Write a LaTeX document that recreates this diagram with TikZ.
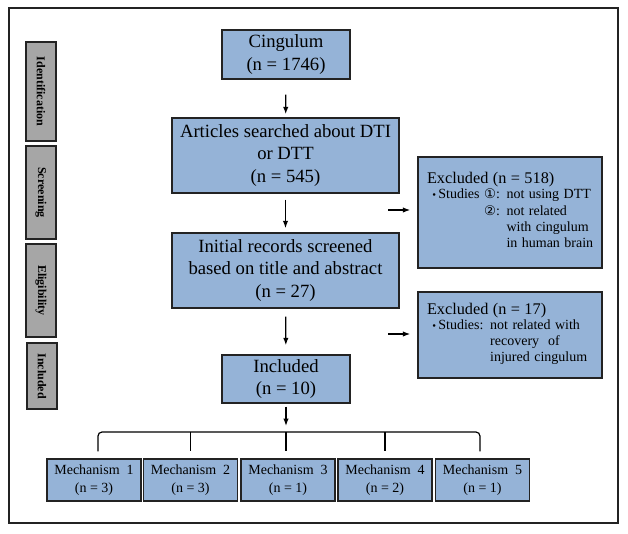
\documentclass[tikz,border=0pt]{standalone}
\usepackage{fontspec}
\setmainfont{Liberation Serif}
\newfontfamily\symf[Scale=0.95]{DejaVu Sans}
\usetikzlibrary{arrows.meta,calc}
\definecolor{boxblue}{RGB}{149,179,215}
\definecolor{boxgray}{RGB}{166,166,166}
\definecolor{edge}{RGB}{35,35,35}
\tikzset{
  bluebox/.style={draw=edge, line width=1.1pt, fill=boxblue, inner sep=0pt, align=center,
     font=\fontsize{14}{17}\selectfont},
  mechbox/.style={draw=edge, line width=1.1pt, fill=boxblue, inner sep=0pt, align=center,
     minimum width=70.5pt, minimum height=31.5pt, font=\fontsize{10.5}{13.5}\selectfont},
  exbox/.style={draw=edge, line width=1.1pt, fill=boxblue, inner xsep=6.75pt, inner ysep=0pt,
     text width=124.5pt, align=left, minimum width=138pt},
  phase/.style={draw=edge, line width=1.1pt, fill=boxgray, inner sep=0pt, minimum width=22.5pt,
     font=\fontsize{9}{11}\selectfont\bfseries},
  flow/.style={-{Latex[length=5.5pt,width=4pt]}, line width=1pt, draw=black},
  brk/.style={line width=0.9pt, draw=black}
}
\begin{document}
\begin{tikzpicture}[x=0.75pt,y=-0.75pt]
\useasboundingbox (0,0) rectangle (628,533);
\draw[line width=1pt, draw=edge] (9,8) rectangle (618,523);

% phase labels
\node[phase, minimum height=74.25pt] (pid) at (41,91.5) {\rotatebox{-90}{Identification}};
\node[phase, minimum height=69.75pt] (psc) at (41,192.5) {\rotatebox{-90}{Screening}};
\node[phase, minimum height=69.75pt] (pel) at (41,290.5) {\rotatebox{-90}{Eligibility}};
\node[phase, minimum height=49.5pt] (pin) at (42,376) {\rotatebox{-90}{Included}};

% main flow
\node[bluebox, minimum width=96pt, minimum height=36.75pt] (cing) at (286,54.5) {Cingulum\\(n = 1746)};
\node[bluebox, minimum width=170.25pt, minimum height=56.25pt] (art) at (285.5,155.5) {Articles searched about DTI\\or DTT\\(n = 545)};
\node[bluebox, minimum width=170.25pt, minimum height=56.25pt] (init) at (285.5,270.5) {Initial records screened\\based on title and abstract\\(n = 27)};
\node[bluebox, minimum width=96pt, minimum height=36pt] (incl) at (286,379) {Included\\(n = 10)};

% excluded boxes
\node[exbox, minimum height=83.25pt] (ex1) at (510,212.5) {%
\begin{tabular}{@{}l@{}}
\fontsize{12.2}{14}\selectfont Excluded (n = 518)\\[-1pt]
\fontsize{10.5}{12.2}\selectfont
\hspace*{4pt}\begin{tabular}{@{}l@{ }l@{ }l@{}}
{\footnotesize\textbullet}\,Studies & {\symf ①}: & not using DTT\\
 & {\symf ②}: & not related\\
 & & with cingulum\\
 & & in human brain
\end{tabular}
\end{tabular}};
\node[exbox, minimum height=64.5pt] (ex2) at (510,335) {%
\begin{tabular}{@{}l@{}}
\fontsize{12.2}{14}\selectfont Excluded (n = 17)\\[-1pt]
\fontsize{10.5}{12.2}\selectfont
\hspace*{4pt}\begin{tabular}{@{}l@{ }l@{}}
{\footnotesize\textbullet}\,Studies: & not related with\\
 & recovery\ \ of\\
 & injured cingulum
\end{tabular}
\end{tabular}};

% mechanisms
\node[mechbox] (m1) at (94,480) {Mechanism\ \ 1\\(n = 3)};
\node[mechbox] (m2) at (190.5,480) {Mechanism\ \ 2\\(n = 3)};
\node[mechbox] (m3) at (288,480) {Mechanism\ \ 3\\(n = 1)};
\node[mechbox] (m4) at (385,480) {Mechanism\ \ 4\\(n = 2)};
\node[mechbox] (m5) at (482.5,480) {Mechanism\ \ 5\\(n = 1)};

% connectors
\draw[flow, shorten <=11.25pt, shorten >=2.25pt] (cing) -- (art);
\draw[flow, shorten <=4.5pt, shorten >=3pt] (art) -- (init);
\draw[flow, shorten <=6pt, shorten >=6.75pt] (init) -- (incl);
\coordinate (br) at (286,432);
\draw[flow, shorten <=2.25pt, shorten >=4.5pt] (incl) -- (br);

\coordinate (s1) at (388,210);
\coordinate (s2) at (388,334);
\draw[flow, shorten >=5.25pt] (s1) -- (s1 -| ex1.west);
\draw[flow, shorten >=5.25pt] (s2) -- (s2 -| ex2.west);

% bracket
\draw[brk, rounded corners=3pt] ([xshift=3pt,yshift=5.25pt]m1.north) |- (br) -| ([xshift=-1.9pt,yshift=5.25pt]m5.north);
\draw[brk] (m2.north |- br) -- ([yshift=5.25pt]m2.north);
\draw[brk] (br) -- ([yshift=5.25pt]br |- m3.north);
\draw[brk] (m4.north |- br) -- ([yshift=5.25pt]m4.north);
\end{tikzpicture}
\end{document}
